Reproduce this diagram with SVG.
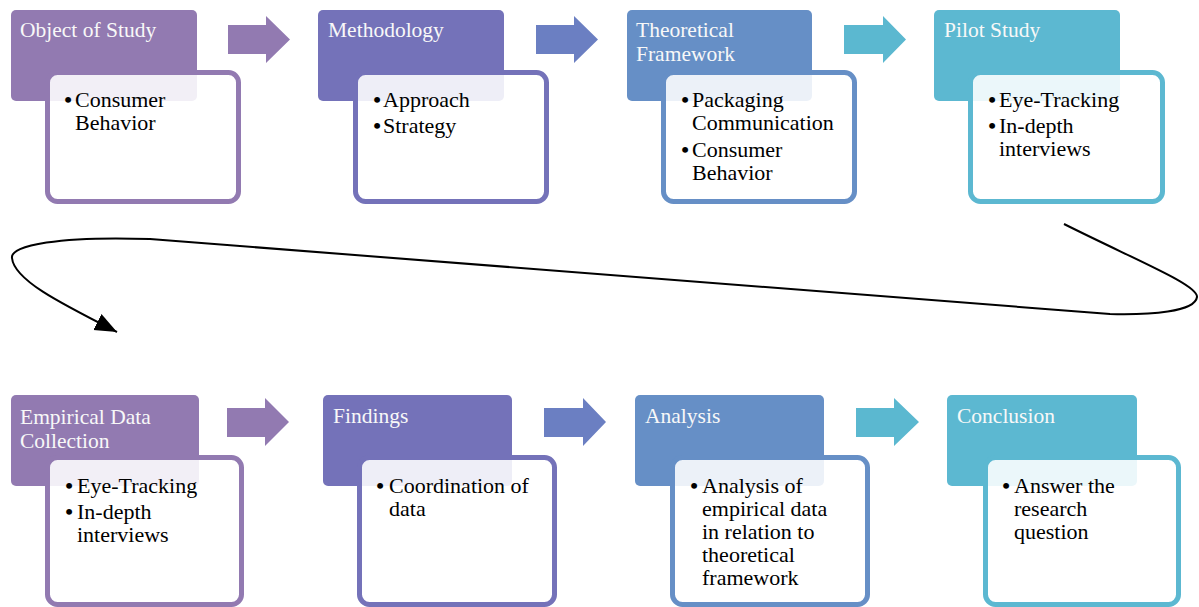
<svg xmlns="http://www.w3.org/2000/svg" width="1199" height="607" viewBox="0 0 1199 607">
<style>
.hd{font-family:"Liberation Serif","Times New Roman",serif;font-size:21.5px;fill:#f8f8f8}
.bd{font-family:"Liberation Serif","Times New Roman",serif;font-size:22px;fill:#000}
.bl{font-family:"Liberation Serif","Times New Roman",serif;font-size:22px;font-weight:bold;fill:#000;text-anchor:middle}
.in{fill:#ffffff;fill-opacity:0.88;stroke-width:5}
.c1{fill:#927ab1}
.c2{fill:#7472b9}
.c3{fill:#668fc6}
.c4{fill:#5cb8d1}
.s1{stroke:#927ab1}
.s2{stroke:#7472b9}
.s3{stroke:#668fc6}
.s4{stroke:#5cb8d1}
</style>
<defs>
<marker id="ah" markerUnits="userSpaceOnUse" markerWidth="24" markerHeight="20" refX="22" refY="10" orient="auto">
<path d="M0,1 L22,10 L0,19 Z" fill="#000"/>
</marker>
</defs>
<rect width="1199" height="607" fill="#ffffff"/>

<g id="connectors">
<polygon class="c1" points="228,25 266,25 266,16 290,39.5 266,63 266,54 228,54"/>
<polygon fill="#6b7fc2" points="536,25 574,25 574,16 598,39.5 574,63 574,54 536,54"/>
<polygon fill="#5bb8d0" points="844,25 883,25 883,16 906,39.5 883,63 883,54 844,54"/>
<polygon class="c1" points="227,408 265,408 265,398 289,422 265,446 265,437 227,437"/>
<polygon fill="#6b7fc2" points="544,408 583,408 583,398 606,422 583,446 583,437 544,437"/>
<polygon fill="#5bb8d0" points="856,408 894,408 894,398 919,422 894,446 894,437 856,437"/>
<path d="M1064,224 C1140,262 1198,285 1197,297 C1195,312 1150,315 1110,314 L150,239 C60,236 10,245 12,258 C14,280 60,303 117,332" fill="none" stroke="#000" stroke-width="2" marker-end="url(#ah)"/>
</g>

<g id="n1">
<rect class="c1" x="11" y="10" width="186" height="91" rx="5"/>
<text class="hd" x="20" y="37">Object of Study</text>
<rect class="in s1" x="47.5" y="72.5" width="191" height="129" rx="10"/>
<text class="bl" x="68" y="107">•</text>
<text class="bd" x="75" y="107">Consumer</text>
<text class="bd" x="75" y="130">Behavior</text>
</g>

<g id="n2">
<rect class="c2" x="318" y="10" width="186" height="91" rx="5"/>
<text class="hd" x="328" y="37">Methodology</text>
<rect class="in s2" x="355.5" y="72.5" width="191" height="129" rx="10"/>
<text class="bl" x="377" y="107">•</text>
<text class="bd" x="383" y="107">Approach</text>
<text class="bl" x="377" y="133">•</text>
<text class="bd" x="383" y="133">Strategy</text>
</g>

<g id="n3">
<rect class="c3" x="627" y="10" width="185" height="91" rx="5"/>
<text class="hd" x="636" y="37">Theoretical</text>
<text class="hd" x="636" y="61">Framework</text>
<rect class="in s3" x="663.5" y="72.5" width="191" height="129" rx="10"/>
<text class="bl" x="685" y="107">•</text>
<text class="bd" x="692" y="107">Packaging</text>
<text class="bd" x="692" y="130">Communication</text>
<text class="bl" x="685" y="157">•</text>
<text class="bd" x="692" y="157">Consumer</text>
<text class="bd" x="692" y="180">Behavior</text>
</g>

<g id="n4">
<rect class="c4" x="934" y="10" width="186" height="91" rx="5"/>
<text class="hd" x="944" y="37">Pilot Study</text>
<rect class="in s4" x="970.5" y="72.5" width="192" height="129" rx="10"/>
<text class="bl" x="992" y="107">•</text>
<text class="bd" x="999" y="107">Eye-Tracking</text>
<text class="bl" x="992" y="133">•</text>
<text class="bd" x="999" y="133">In-depth</text>
<text class="bd" x="999" y="156">interviews</text>
</g>

<g id="n5">
<rect class="c1" x="11" y="395" width="188" height="91" rx="5"/>
<text class="hd" x="20" y="424">Empirical Data</text>
<text class="hd" x="20" y="448">Collection</text>
<rect class="in s1" x="47.5" y="457.5" width="194" height="147" rx="10"/>
<text class="bl" x="69" y="493">•</text>
<text class="bd" x="77" y="493">Eye-Tracking</text>
<text class="bl" x="69" y="519">•</text>
<text class="bd" x="77" y="519">In-depth</text>
<text class="bd" x="77" y="542">interviews</text>
</g>

<g id="n6">
<rect class="c2" x="323" y="395" width="189" height="91" rx="5"/>
<text class="hd" x="333" y="423">Findings</text>
<rect class="in s2" x="359.5" y="457.5" width="195" height="147" rx="10"/>
<text class="bl" x="380" y="493">•</text>
<text class="bd" x="389" y="493">Coordination of</text>
<text class="bd" x="389" y="516">data</text>
</g>

<g id="n7">
<rect class="c3" x="635" y="395" width="189" height="91" rx="5"/>
<text class="hd" x="645" y="423">Analysis</text>
<rect class="in s3" x="672.5" y="457.5" width="195" height="147" rx="10"/>
<text class="bl" x="694" y="493">•</text>
<text class="bd" x="702" y="493">Analysis of</text>
<text class="bd" x="702" y="516">empirical data</text>
<text class="bd" x="702" y="539">in relation to</text>
<text class="bd" x="702" y="562">theoretical</text>
<text class="bd" x="702" y="585">framework</text>
</g>

<g id="n8">
<rect class="c4" x="947" y="395" width="190" height="91" rx="5"/>
<text class="hd" x="957" y="423">Conclusion</text>
<rect class="in s4" x="985.5" y="457.5" width="193" height="147" rx="10"/>
<text class="bl" x="1006" y="493">•</text>
<text class="bd" x="1014" y="493">Answer the</text>
<text class="bd" x="1014" y="516">research</text>
<text class="bd" x="1014" y="539">question</text>
</g>
</svg>
